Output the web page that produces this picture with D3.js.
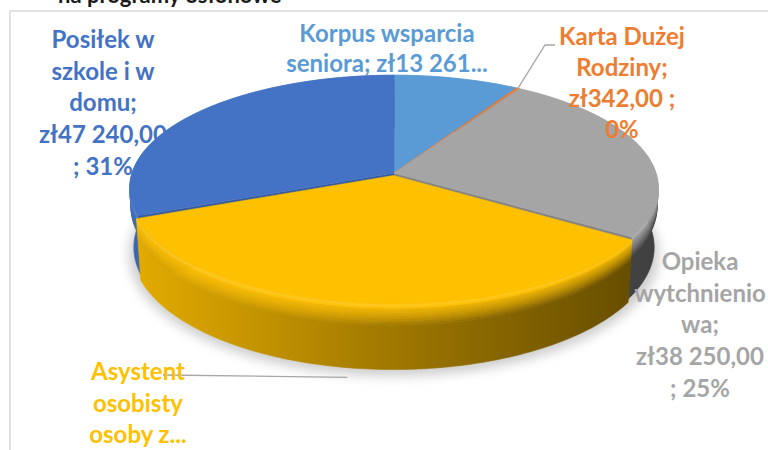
<!DOCTYPE html>
<html><head><meta charset="utf-8">
<script src="https://cdn.jsdelivr.net/npm/d3@7"></script>
<style>html,body{margin:0;padding:0;background:#fff;} svg{display:block;}</style>
</head><body>
<svg id="c" width="768" height="450"></svg>
<script>
// ---- data ----
const categories = ["Korpus wsparcia seniora", "Karta Dużej Rodziny", "Opieka wytchnieniowa", "Asystent osobisty osoby z niepełnosprawnością", "Posiłek w szkole i w domu"];
const values = [13261, 342, 38250, 53300, 47240];
const sliceColors = ["#5B9BD5", "#ED7D31", "#A5A5A5", "#FFC000", "#4472C4"];
const labelLines = [
  ["Korpus wsparcia", "seniora; zł13 261..."],
  ["Karta Dużej", "Rodziny;", "zł342,00 ;", "0%"],
  ["Opieka", "wytchnienio", "wa;", "zł38 250,00", "; 25%"],
  ["Asystent", "osobisty", "osoby z..."],
  ["Posiłek w", "szkole i w", "domu;", "zł47 240,00", "; 31%"]
];
const explodedIndex = 3;
const titleText = "na programy osłonowe";

// ---- layout ----
const labelLayout = [
  {x: 387, y: 42, dy: 30},
  {x: 622, y: 45, dy: 31},
  {x: 700, y: 270, dy: 31.7},
  {x: 138, y: 380, dy: 31.5},
  {x: 103, y: 48, dy: 31.7}
];
const FONT = "Lato, 'Open Sans', sans-serif";
const FS = 24;

const svg = d3.select("#c");
const defs = svg.append("defs");

// border of plot area
svg.append("path").attr("d", "M10,450V11H768").attr("fill", "none").attr("stroke", "#D9D9D9").attr("stroke-width", 1.5);
svg.append("text").attr("x", 58).attr("y", 3).attr("font-family", FONT).attr("font-weight", 700)
  .attr("font-size", 22).attr("fill", "#1a1a1a").text(titleText);

// ---- 3D projection ----
const R = 262, H = 66, phi = 25 * Math.PI / 180, Dist = 1800, cx = 394, cy = 173;
const cphi = Math.cos(phi), sphi = Math.sin(phi);
function proj(theta, r, y, off) {
  const X = r * Math.sin(theta) + off.x;
  const Z = -r * Math.cos(theta) + off.z;
  const d = Z * cphi + y * sphi;
  const s = Dist / (Dist - d);
  const u = y * cphi - Z * sphi;
  return [cx + X * s, cy - u * s];
}

const pie = d3.pie().sort(null).value(d => d);
const arcs = pie(values);
const EXP = 6;
arcs.forEach((a, i) => {
  const mid = (a.startAngle + a.endAngle) / 2;
  a.mid = mid;
  a.off = i === explodedIndex ? {x: EXP * Math.sin(mid), z: -EXP * Math.cos(mid)} : {x: 0, z: 0};
});

function arcPts(a, r, y, rev) {
  const n = Math.max(2, Math.ceil((a.endAngle - a.startAngle) / 0.02));
  const pts = d3.range(n + 1).map(k => proj(a.startAngle + (a.endAngle - a.startAngle) * k / n, r, y, a.off));
  return rev ? pts.reverse() : pts;
}
const line = d3.line();

function shade(c, f) {
  const col = d3.rgb(c);
  if (f <= 1) return d3.rgb(col.r * f, col.g * f, col.b * f).formatHex();
  const t = Math.min(1, f - 1);
  return d3.rgb(col.r + (255 - col.r) * t, col.g + (255 - col.g) * t, col.b + (255 - col.b) * t).formatHex();
}

// shadow
const sh = defs.append("filter").attr("id", "blur").attr("x", "-20%").attr("y", "-20%").attr("width", "140%").attr("height", "140%");
sh.append("feGaussianBlur").attr("stdDeviation", 6);
const fullArc = {startAngle: 0, endAngle: 2 * Math.PI, off: {x: 0, z: 6}};
svg.append("path").attr("d", line(arcPts(fullArc, R + 4, -H - 4)) + "Z")
  .attr("fill", "#000").attr("opacity", 0.2).attr("filter", "url(#blur)");

// gradients for side strips
const xScale = d3.scaleLinear().domain([125, 670]).range([0, 1]);
const strips = [];
const NB = 10, bevelT = 0.32;
for (let k = 0; k < NB; k++) {
  const t0 = bevelT * k / NB, t1 = bevelT * (k + 1) / NB, tm = (t0 + t1) / 2;
  const w = tm / bevelT;
  const hi = k === 0 ? 1.14 : (k === 1 ? 1.08 : 1.0);
  const top = [hi, hi * 0.98, hi * 0.95];
  const bot = [0.9, 0.62, 0.37];
  const ease = Math.pow(w, 1.4);
  strips.push({t0, t1, f: top.map((v, j) => v + (bot[j] - v) * ease)});
}
strips.push({t0: bevelT, t1: 1, f: [0.9, 0.62, 0.37]});

function gradFor(i, s, si) {
  const id = `g${i}_${si}`;
  if (defs.select("#" + id).empty()) {
    const g = defs.append("linearGradient").attr("id", id).attr("gradientUnits", "userSpaceOnUse")
      .attr("x1", xScale.invert(0)).attr("x2", xScale.invert(1)).attr("y1", 0).attr("y2", 0);
    [0, 0.5, 1].forEach((o, j) => g.append("stop").attr("offset", o).attr("stop-color", shade(sliceColors[i], s.f[j])));
  }
  return `url(#${id})`;
}

const gPie = svg.append("g");
function drawSide(a, i) {
  strips.slice().reverse().forEach((s, ri) => {
    const si = strips.length - 1 - ri;
    const pts = arcPts(a, R, -s.t0 * H).concat(arcPts(a, R, -s.t1 * H, true));
    gPie.append("path").attr("d", line(pts) + "Z").attr("fill", gradFor(i, s, si))
      .attr("stroke", gradFor(i, s, si)).attr("stroke-width", 0.6);
  });
}
function radialFace(a, i, theta) {
  const pts = [proj(theta, 0, 0, a.off), proj(theta, R, 0, a.off), proj(theta, R, -H, a.off), proj(theta, 0, -H, a.off)];
  gPie.append("path").attr("d", line(pts) + "Z").attr("fill", shade(sliceColors[i], 0.8));
}
function drawTop(a, i) {
  const pts = [proj(0, 0, 0, a.off)].concat(arcPts(a, R, 0));
  gPie.append("path").attr("d", line(pts) + "Z").attr("fill", sliceColors[i])
    .attr("stroke", sliceColors[i]).attr("stroke-width", 0.6).attr("stroke-linejoin", "round");
}

const order = d3.range(arcs.length).filter(i => i !== explodedIndex)
  .sort((p, q) => Math.cos(arcs[q].mid) - Math.cos(arcs[p].mid));
const ex = arcs[explodedIndex];
order.forEach(i => {
  const a = arcs[i];
  drawSide(a, i);
  if (i === (explodedIndex + arcs.length - 1) % arcs.length) radialFace(a, i, a.endAngle);
  if (i === (explodedIndex + 1) % arcs.length) radialFace(a, i, a.startAngle);
  drawTop(a, i);
});
drawSide(ex, explodedIndex);
drawTop(ex, explodedIndex);

// leader lines
const karta = arcs[1];
const kStart = proj(karta.mid, R, 0, karta.off);
svg.append("path").attr("d", line([kStart, [545, 45], [555, 45]]))
  .attr("fill", "none").attr("stroke", "#A6A6A6").attr("stroke-width", 1.3);
const asy = arcs[3];
const aEnd = proj(asy.mid + 0.05, R + 16, -H, asy.off);
svg.append("path").attr("d", line([[163, 375], aEnd]))
  .attr("fill", "none").attr("stroke", "#A6A6A6").attr("stroke-width", 1.3);

// labels
labelLines.forEach((lines, i) => {
  const L = labelLayout[i];
  const t = svg.append("text").attr("font-family", FONT).attr("font-weight", 700).attr("font-size", FS)
    .attr("fill", sliceColors[i]).attr("text-anchor", "middle");
  lines.forEach((s, k) => t.append("tspan").attr("x", L.x).attr("y", L.y + k * L.dy).text(s));
});
</script>
</body></html>
